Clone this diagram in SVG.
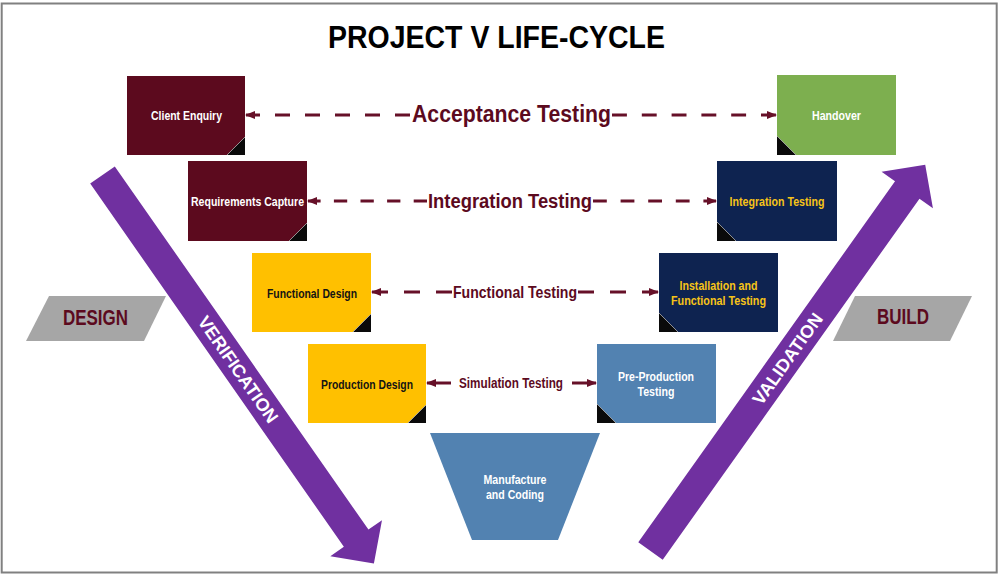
<svg xmlns="http://www.w3.org/2000/svg" xmlns:xlink="http://www.w3.org/1999/xlink" width="1000" height="575" viewBox="0 0 1000 575">
<defs>
<style>
.f{font-family:"Liberation Sans",Arial,Helvetica,sans-serif;font-weight:bold;text-anchor:middle;}
.bt{font-size:12.5px;}
.w{fill:#ffffff;}
.y{fill:#F7C318;}
.k{fill:#141414;}
.m{fill:#5C0A1E;}
.lbl{fill:#5C0A1E;}
.fold{fill:#0a0a0a;}
.foldline{stroke:#b0b0b0;stroke-width:0.8;fill:none;}
.con{fill:none;stroke:#661028;stroke-width:3;}
.para{fill:#A6A6A6;}
.big{fill:#7030A0;}
.at{font-size:18px;fill:#ffffff;}
</style>
<marker id="ah" viewBox="0 0 10 8" refX="9" refY="4" markerWidth="10" markerHeight="8" orient="auto" markerUnits="userSpaceOnUse">
<path d="M0,0 L10,4 L0,8 z" fill="#661028"/>
</marker>
<polygon id="bigArrow" points="0,-15 443,-15 443,-31.5 474,0 443,31.5 443,15 0,15"/>
</defs>
<rect x="0" y="0" width="1000" height="575" fill="#ffffff"/>
<rect x="1.7" y="3.5" width="995" height="569" fill="none" stroke="#808080" stroke-width="2"/>
<text class="f" x="496.5" y="48" font-size="32" fill="#000000" textLength="337" lengthAdjust="spacingAndGlyphs">PROJECT V LIFE-CYCLE</text>

<g id="design">
<polygon class="para" points="49,296 166,296 144,341 26,341"/>
<text class="f m" x="95.5" y="325" font-size="22" textLength="65" lengthAdjust="spacingAndGlyphs">DESIGN</text>
</g>
<g id="build">
<polygon class="para" points="855,296 972,296 950,341 833,341"/>
<text class="f m" x="903" y="324" font-size="22" textLength="52" lengthAdjust="spacingAndGlyphs">BUILD</text>
</g>

<g id="verification">
<use xlink:href="#bigArrow" href="#bigArrow" class="big" transform="translate(102.5,175) rotate(55.07)"/>
<text class="f at" transform="translate(102.5,175) rotate(55.07)" x="237" y="6.5">VERIFICATION</text>
</g>
<g id="validation">
<use xlink:href="#bigArrow" href="#bigArrow" class="big" transform="translate(650.5,551) rotate(-54.58)"/>
<text class="f at" transform="translate(650.5,551) rotate(-54.58)" x="236" y="6.5">VALIDATION</text>
</g>

<g id="connectors">
<path class="con" d="M410,115 H246" stroke-dasharray="15 15" marker-end="url(#ah)"/>
<path class="con" d="M612,115 H776" stroke-dasharray="14.9 14.9" marker-end="url(#ah)"/>
<text class="f lbl" x="511.5" y="122" font-size="23" textLength="199" lengthAdjust="spacingAndGlyphs">Acceptance Testing</text>

<path class="con" d="M427,201 H308" stroke-dasharray="13.3 13.3" marker-end="url(#ah)"/>
<path class="con" d="M593,201 H716" stroke-dasharray="13.8 13.8" marker-end="url(#ah)"/>
<text class="f lbl" x="510" y="208" font-size="20" textLength="164" lengthAdjust="spacingAndGlyphs">Integration Testing</text>

<path class="con" d="M452,292 H372" stroke-dasharray="16 16" marker-end="url(#ah)"/>
<path class="con" d="M578,292 H658" stroke-dasharray="16 16" marker-end="url(#ah)"/>
<text class="f lbl" x="515" y="298" font-size="16.5" textLength="124" lengthAdjust="spacingAndGlyphs">Functional Testing</text>

<path class="con" d="M451,383 H427" marker-end="url(#ah)"/>
<path class="con" d="M572,383 H596" marker-end="url(#ah)"/>
<text class="f lbl" x="511" y="388" font-size="14" textLength="104" lengthAdjust="spacingAndGlyphs">Simulation Testing</text>
</g>

<g id="client-enquiry">
<rect x="127" y="76" width="118" height="79" fill="#5C0A1E"/>
<polygon class="fold" points="227,155 245,155 245,137"/>
<line class="foldline" x1="227" y1="155" x2="245" y2="137"/>
<text class="f bt w" x="186.5" y="120" textLength="71" lengthAdjust="spacingAndGlyphs">Client Enquiry</text>
</g>
<g id="requirements-capture">
<rect x="188" y="161" width="119" height="80" fill="#5C0A1E"/>
<polygon class="fold" points="289,241 307,241 307,223"/>
<line class="foldline" x1="289" y1="241" x2="307" y2="223"/>
<text class="f bt w" x="247.5" y="205.5" textLength="113" lengthAdjust="spacingAndGlyphs">Requirements Capture</text>
</g>
<g id="functional-design">
<rect x="252" y="253" width="119" height="79" fill="#FFC000"/>
<polygon class="fold" points="353,332 371,332 371,314"/>
<line class="foldline" x1="353" y1="332" x2="371" y2="314"/>
<text class="f bt k" x="312" y="297.5" textLength="90" lengthAdjust="spacingAndGlyphs">Functional Design</text>
</g>
<g id="production-design">
<rect x="308" y="344" width="118" height="79" fill="#FFC000"/>
<polygon class="fold" points="408,423 426,423 426,405"/>
<line class="foldline" x1="408" y1="423" x2="426" y2="405"/>
<text class="f bt k" x="367" y="388.5" textLength="92" lengthAdjust="spacingAndGlyphs">Production Design</text>
</g>
<g id="handover">
<rect x="777" y="75" width="119" height="80" fill="#7DAF4F"/>
<polygon class="fold" points="777,136 777,155 796,155"/>
<line class="foldline" x1="777" y1="136" x2="796" y2="155"/>
<text class="f bt w" x="836.5" y="119.5" textLength="49" lengthAdjust="spacingAndGlyphs">Handover</text>
</g>
<g id="integration-testing">
<rect x="717" y="161" width="120" height="80" fill="#0E2350"/>
<polygon class="fold" points="717,222 717,241 736,241"/>
<line class="foldline" x1="717" y1="222" x2="736" y2="241"/>
<text class="f bt y" x="777" y="205.5" textLength="95" lengthAdjust="spacingAndGlyphs">Integration Testing</text>
</g>
<g id="installation-functional-testing">
<rect x="659" y="253" width="119" height="79" fill="#0E2350"/>
<polygon class="fold" points="659,313 659,332 678,332"/>
<line class="foldline" x1="659" y1="313" x2="678" y2="332"/>
<text class="f bt y" x="718.5" y="289.5" textLength="78" lengthAdjust="spacingAndGlyphs">Installation and</text>
<text class="f bt y" x="718.5" y="304.5" textLength="95" lengthAdjust="spacingAndGlyphs">Functional Testing</text>
</g>
<g id="pre-production-testing">
<rect x="597" y="344" width="119" height="79" fill="#5282B1"/>
<polygon class="fold" points="597,404 597,423 616,423"/>
<line class="foldline" x1="597" y1="404" x2="616" y2="423"/>
<text class="f bt w" x="656" y="380.5" textLength="76" lengthAdjust="spacingAndGlyphs">Pre-Production</text>
<text class="f bt w" x="656" y="395.5" textLength="37" lengthAdjust="spacingAndGlyphs">Testing</text>
</g>
<g id="manufacture-coding">
<polygon points="430,433 600,433 558,540 472,540" fill="#5282B1"/>
<text class="f bt w" x="515" y="484" textLength="63" lengthAdjust="spacingAndGlyphs">Manufacture</text>
<text class="f bt w" x="515" y="499" textLength="58" lengthAdjust="spacingAndGlyphs">and Coding</text>
</g>
</svg>
